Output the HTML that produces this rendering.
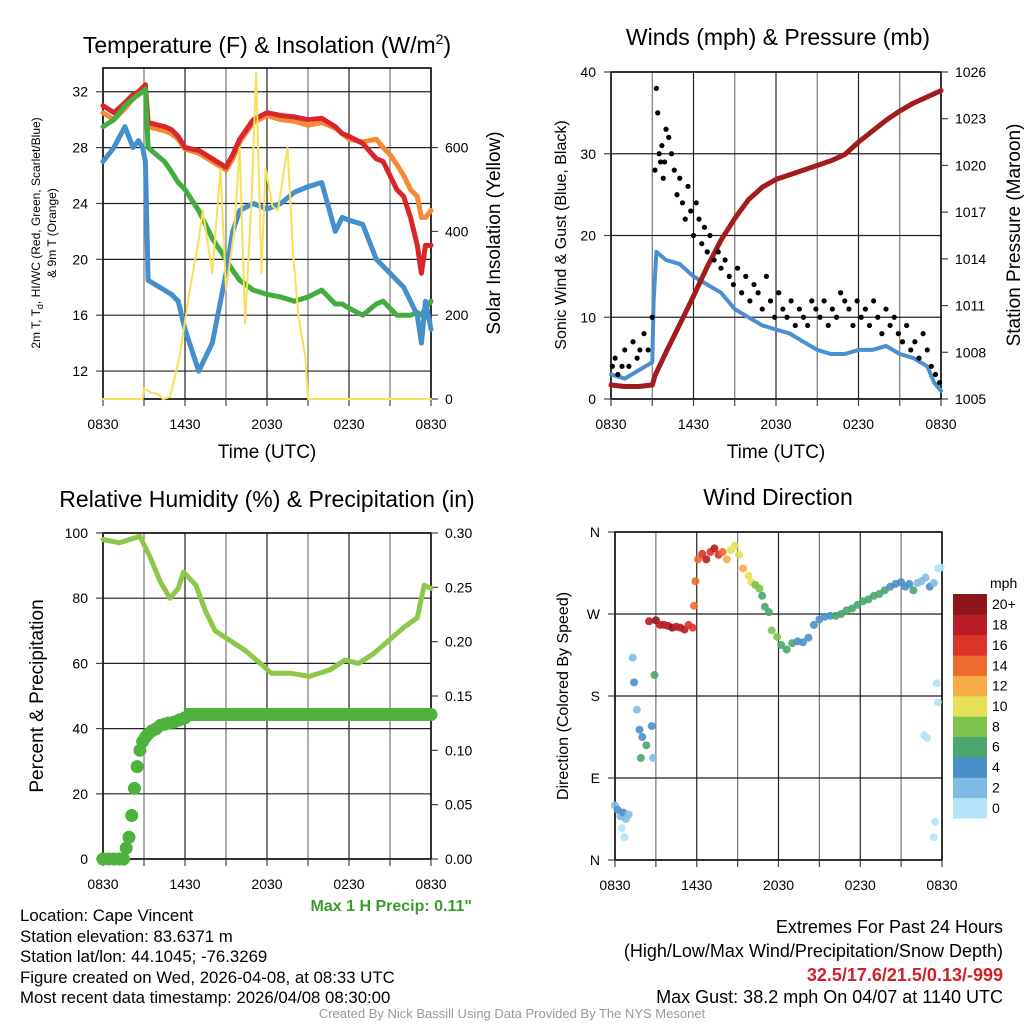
<!DOCTYPE html>
<html><head><meta charset="utf-8"><style>
body{margin:0;background:#fff;}
svg{display:block;font-family:"Liberation Sans",sans-serif;}
</style></head><body>
<svg id="s" width="1024" height="1024" viewBox="0 0 1024 1024">
<g id="g1"></g>
<g id="g2"></g>
<g id="g3"></g>
<g id="g4"></g>
<text x="267" y="53" font-size="23" text-anchor="middle">Temperature (F) &amp; Insolation (W/m<tspan dy="-9" font-size="14">2</tspan><tspan dy="9">)</tspan></text>
<text x="778" y="45" font-size="23" text-anchor="middle">Winds (mph) &amp; Pressure (mb)</text>
<text x="267" y="507" font-size="23" text-anchor="middle">Relative Humidity (%) &amp; Precipitation (in)</text>
<text x="778" y="505" font-size="23" text-anchor="middle">Wind Direction</text>
<text x="267" y="458" font-size="19" text-anchor="middle">Time (UTC)</text>
<text x="776" y="458" font-size="19" text-anchor="middle">Time (UTC)</text>
<text transform="translate(40,233) rotate(-90)" font-size="12" text-anchor="middle">2m T, T<tspan font-size="9" dy="3">d</tspan><tspan dy="-3">, HI/WC (Red, Green, Scarlet/Blue)</tspan></text>
<text transform="translate(56,233) rotate(-90)" font-size="12" text-anchor="middle">&amp; 9m T (Orange)</text>
<text transform="translate(500,233) rotate(-90)" font-size="19" text-anchor="middle">Solar Insolation (Yellow)</text>
<text transform="translate(566,235) rotate(-90)" font-size="16" text-anchor="middle">Sonic Wind &amp; Gust (Blue, Black)</text>
<text transform="translate(1020,235) rotate(-90)" font-size="19" text-anchor="middle">Station Pressure (Maroon)</text>
<text transform="translate(43,696) rotate(-90)" font-size="19" text-anchor="middle">Percent &amp; Precipitation</text>
<text transform="translate(568,696) rotate(-90)" font-size="16" text-anchor="middle">Direction (Colored By Speed)</text>
<text x="472" y="911" font-size="16" font-weight="bold" fill="#3a9a2a" text-anchor="end">Max 1 H Precip: 0.11"</text>
<g font-size="16.8">
<text x="20" y="921">Location: Cape Vincent</text>
<text x="20" y="942">Station elevation: 83.6371 m</text>
<text x="20" y="962">Station lat/lon: 44.1045; -76.3269</text>
<text x="20" y="983">Figure created on Wed, 2026-04-08, at 08:33 UTC</text>
<text x="20" y="1003">Most recent data timestamp: 2026/04/08 08:30:00</text>
</g>
<g font-size="18" text-anchor="end">
<text x="1003" y="933">Extremes For Past 24 Hours</text>
<text x="1003" y="957">(High/Low/Max Wind/Precipitation/Snow Depth)</text>
<text x="1003" y="981" font-weight="bold" fill="#d0202a">32.5/17.6/21.5/0.13/-999</text>
<text x="1003" y="1003">Max Gust: 38.2 mph On 04/07 at 1140 UTC</text>
</g>
<text x="512" y="1018" font-size="13" fill="#999" text-anchor="middle">Created By Nick Bassill Using Data Provided By The NYS Mesonet</text>
</svg>
<script>
// ---------- data ----------
const xTickLabels=["0830","1430","2030","0230","0830"];
const tT=[0,0.8,1.6,2.2,2.6,2.9,3.1,3.3,4.5,5,5.5,6,7,8,9,9.5,10,11,12,13,14,15,16,17,17.5,18,19,20,20.5,21,21.5,22,22.5,23,23.3,23.6,24];
const tempRed=[31,30.5,31.2,31.8,32,32.3,32.5,29.8,29.5,29.3,28.8,28,27.8,27.2,26.6,27.5,28.6,30,30.5,30.3,30.2,30,30.1,29.5,29,28.8,28.3,27.2,27,26,25,24.5,23,21,19,21,21];
const tempOrange=[30.5,30,30.8,31.5,31.8,32,32.3,29.5,29.2,29,28.6,27.9,27.6,27,26.4,27.2,28.4,29.8,30.3,30,29.9,29.6,29.8,29.4,29,28.6,28.4,28.6,28,27.5,26.8,26,25,24.5,23,23,23.5];
const tempBlue=[27,28,29.5,28,28.5,28,27,18.5,17.8,17.5,17,15,12,14,19,22,23.5,24,23.6,24,24.8,25.2,25.5,22,23,22.8,22.5,20,19.5,19,18.5,18,17,16,14,17,15];
const tempGreen=[29.5,30,31,31.5,31.8,32,32.2,28,27,26.3,25.5,25,23.5,21.5,20,19.2,18.5,17.8,17.5,17.3,17,17.3,17.8,16.8,16.8,16.5,16,16.8,17,16.5,16,16,16,16.2,16,16.5,17];
const tSolar=[0,2.9,3.0,3.5,4.0,4.4,4.9,5.6,6.3,7.0,7.3,8.0,8.6,9.0,9.6,10.0,10.4,10.9,11.2,11.6,11.9,12.4,12.8,13.5,13.9,14.3,14.8,15.0,24];
const solar=[0,0,25,15,12,0,5,100,250,380,450,300,550,260,400,600,180,500,780,300,550,460,450,600,350,200,100,0,0];
const tWind=[0,1,2,3,3.1,3.3,4,5,6,7,8,9,10,11,12,13,14,15,16,17,18,19,20,21,22,23,23.5,24];
const windSpd=[3,2.5,3.5,4.5,12,18,17,16.5,15,14,13,11,10,9,8.5,8,7,6,5.5,5.5,6,6,6.5,5.5,5,4,2,1];
const tPres=[0,1,2,3,3.2,4,5,6,7,8,9,10,11,12,13,14,15,16,17,18,19,20,21,22,23,24];
const pressure=[1005.9,1005.8,1005.8,1005.9,1006.5,1008,1009.8,1011.6,1013.5,1015.2,1016.6,1017.8,1018.6,1019.1,1019.4,1019.7,1020,1020.3,1020.7,1021.5,1022.2,1022.9,1023.5,1024,1024.4,1024.8];
const tGust=[0.1,0.3,0.5,0.8,1.0,1.3,1.6,1.9,2.1,2.4,2.7,3.0,3.2,3.3,3.4,3.5,3.6,3.7,3.8,3.9,4.0,4.2,4.4,4.6,4.8,5.0,5.2,5.4,5.6,5.8,6.0,6.2,6.4,6.6,6.8,7.0,7.2,7.5,7.8,8.0,8.3,8.6,8.9,9.2,9.5,9.8,10.1,10.4,10.7,11.0,11.3,11.6,11.9,12.2,12.5,12.8,13.1,13.4,13.7,14.0,14.3,14.6,14.9,15.2,15.5,15.8,16.1,16.4,16.7,17.0,17.3,17.6,17.9,18.2,18.5,18.8,19.1,19.4,19.7,20.0,20.3,20.6,20.9,21.2,21.5,21.8,22.1,22.4,22.7,23.0,23.3,23.6,23.9];
const gust=[4,5,3,4,6,4,7,5,6,8,6,10,28,38,35,30,29,31,27,29,33,32,30,28,25,27,24,22,26,23,20,24,22,19,21,18,20,17,18,16,17,15,14,16,13,15,12,14,13,11,15,12,10,13,11,10,12,9,11,10,9,12,11,10,12,9,11,10,13,12,11,9,12,10,11,9,12,10,8,11,9,10,8,7,9,6,7,5,8,6,4,3,2];
const tRH=[0,1.2,2.7,3.4,4.2,4.9,5.5,5.9,6.8,7.5,8.2,9.3,10.4,11.5,12.3,13.7,15.1,16.6,17.7,18.7,19.8,20.9,22,23,23.5,24];
const rh=[98,97,99,93,85,80,83,88,84,76,70,67,64,60,57,57,56,58,61,60,63,67,71,74,84,83];
const tPcp=[0,0.4,0.8,1.2,1.5,1.7,1.9,2.1,2.3,2.5,2.7,2.9,3.1,3.3,3.6,3.9,4.2,4.5,4.8,5.2,5.6,6,6.5,7,8,9,10,11,12,13,14,15,16,17,18,19,20,21,22,23,24];
const precip=[0,0,0,0,0,0.01,0.02,0.04,0.065,0.085,0.1,0.108,0.112,0.115,0.118,0.12,0.123,0.124,0.125,0.126,0.128,0.13,0.133,0.133,0.133,0.133,0.133,0.133,0.133,0.133,0.133,0.133,0.133,0.133,0.133,0.133,0.133,0.133,0.133,0.133,0.133];
const tDir=[0,0.2,0.4,0.6,0.8,1.0,0.5,0.7,1.3,1.4,1.6,1.8,2.0,2.3,2.7,2.8,2.9,1.9,2.5,3.0,3.3,3.6,3.9,4.2,4.5,4.8,5.1,5.4,5.7,5.8,5.9,6.1,6.4,6.7,7.0,7.3,7.6,7.9,8.2,8.5,8.8,9.1,9.4,9.8,10.0,10.3,10.6,10.8,11.0,11.3,11.5,11.9,12.2,12.6,13.0,13.4,13.8,14.2,14.6,15.0,15.4,15.8,16.2,16.6,17.0,17.4,17.8,18.2,18.6,19.0,19.4,19.8,20.2,20.6,21.0,21.3,21.6,21.9,22.2,22.5,22.8,23.1,23.4,23.7,23.9,22.7,22.9,23.6,23.7,23.5,23.4];
const dirDeg=[60,55,48,52,45,50,35,25,222,195,165,143,135,126,147,112,203,112,262,263,258,258,257,255,256,255,253,258,255,279,306,330,336,330,338,342,335,338,330,340,345,335,320,312,305,302,298,290,278,272,252,245,236,231,238,240,239,244,258,264,267,268,268,270,274,276,280,284,286,290,292,296,300,303,305,300,303,296,304,306,310,300,304,320,321,137,134,194,173,42,25];
const dirSpd=[2,4,3,4,2,3,1,1,2,4,2,4,4,6,4,2,6,6,19,20,18,19,18,20,19,18,19,17,17,14,14,14,16,18,17,18,16,15,12,11,10,11,12,10,10,8,8,6,6,6,8,8,6,7,6,5,5,4,4,4,5,5,6,6,6,6,6,7,7,6,7,6,5,4,5,4,4,6,3,2,3,4,2,1,1,1,1,1,1,1,1];
const cbLabels=["0","2","4","6","8","10","12","14","16","18","20+"];
const cbColors=["#b5e2f8","#7fbbe4","#4b8fc8","#48a66e","#7cc24b","#e6e056","#f7ad47","#ef6a2e","#dc3428","#b91c25","#8e1519"];

// ---------- helpers ----------
const NS="http://www.w3.org/2000/svg";
function mk(p,tag,at){const e=document.createElementNS(NS,tag);for(const k in at)e.setAttribute(k,at[k]);p.appendChild(e);return e;}
function lin(d0,d1,r0,r1){return v=>r0+(v-d0)/(d1-d0)*(r1-r0);}
function frame(g,x0,x1,y0,y1,hGrid,yS){
  for(let h=3;h<24;h+=3){const x=x0+h/24*(x1-x0);
    const l=mk(g,'line',{x1:x,x2:x,y1:y0,y2:y1,stroke:h%6?'#777':'#222','stroke-width':1.2});
    
    }
  hGrid.forEach(v=>{const y=yS(v);
    const l=mk(g,'line',{x1:x0,x2:x1,y1:y,y2:y,stroke:'#222','stroke-width':1.2});
    
    });
  const r=mk(g,'rect',{x:x0,y:y0,width:x1-x0,height:y1-y0,fill:'none',stroke:'#000','stroke-width':1.6});
  
  
  for(let h=0;h<=24;h+=3){const x=x0+h/24*(x1-x0);
    mk(g,'line',{x1:x,x2:x,y1:y1,y2:y1+7,stroke:'#444','stroke-width':1.2});}
  xTickLabels.forEach((s,i)=>{const x=x0+i/4*(x1-x0);
    const t=mk(g,'text',{x:x,y:y1+30,'font-size':14,'text-anchor':'middle'});t.textContent=s;
    
    });
}
function yTicks(g,x,vals,yS,left,fmt){vals.forEach(v=>{const y=yS(v);
  mk(g,'line',{x1:x,x2:left?x-7:x+7,y1:y,y2:y,stroke:'#444','stroke-width':1.2});
  const t=mk(g,'text',{x:left?x-15:x+14,y:y+5,'font-size':14,'text-anchor':left?'end':'start'});t.textContent=fmt?fmt(v):v;
  
  });}
function line(g,ts,vs,xS,yS,col,w,name){const d=ts.map((t,i)=>(i?'L':'M')+xS(t).toFixed(1)+','+yS(vs[i]).toFixed(1)).join('');
  const p=mk(g,'path',{d:d,fill:'none',stroke:col,'stroke-width':w,'stroke-linejoin':'round','stroke-linecap':'round'});
  
  }

// ---------- panel 1 ----------
{const g=document.getElementById('g1');const x0=103,x1=431,y0=68,y1=399;
 const xS=lin(0,24,x0,x1),yS=lin(10,33.7,y1,y0),sS=lin(0,790,y1,y0);
 frame(g,x0,x1,y0,y1,[12,16,20,24,28,32],yS);
 yTicks(g,x0,[12,16,20,24,28,32],yS,true);
 yTicks(g,x1,[0,200,400,600],sS,false);
 line(g,tT,tempOrange,xS,yS,'#f58a35',5,'series-9m-temp');
 line(g,tT,tempRed,xS,yS,'#d8262a',5,'series-2m-temp');
 line(g,tT,tempGreen,xS,yS,'#44ad3f',5,'series-dewpoint');
 line(g,tT,tempBlue,xS,yS,'#4590cc',5,'series-wind-chill');
 line(g,tSolar,solar,xS,sS,'#f8e05a',2,'series-solar');}
// ---------- panel 2 ----------
{const g=document.getElementById('g2');const x0=611,x1=941,y0=72,y1=399;
 const xS=lin(0,24,x0,x1),yS=lin(0,40,y1,y0),pS=lin(1005,1026,y1,y0);
 frame(g,x0,x1,y0,y1,[10,20,30],yS);
 yTicks(g,x0,[0,10,20,30,40],yS,true);
 yTicks(g,x1,[1005,1008,1011,1014,1017,1020,1023,1026],pS,false);
 line(g,tWind,windSpd,xS,yS,'#4a90d0',4,'series-wind-speed');
 line(g,tPres,pressure,xS,pS,'#a31c1c',5,'series-pressure');
 tGust.forEach((t,i)=>{const c=mk(g,'circle',{cx:xS(t),cy:yS(gust[i]),r:2.6,fill:'#000'});
  
  });}
// ---------- panel 3 ----------
{const g=document.getElementById('g3');const x0=103,x1=431,y0=533,y1=859;
 const xS=lin(0,24,x0,x1),yS=lin(0,100,y1,y0),pS=lin(0,0.3,y1,y0);
 frame(g,x0,x1,y0,y1,[20,40,60,80],yS);
 yTicks(g,x0,[0,20,40,60,80,100],yS,true);
 yTicks(g,x1,[0,0.05,0.1,0.15,0.2,0.25,0.3],pS,false,v=>v.toFixed(2));
 line(g,tRH,rh,xS,yS,'#8dc84b',5,'series-humidity');
 tPcp.forEach((t,i)=>{const c=mk(g,'circle',{cx:xS(t),cy:pS(precip[i]),r:6.5,fill:'#4db33d'});
  
  });
 mk(g,'rect',{x:xS(6),y:pS(0.133)-6.5,width:xS(24)-xS(6),height:13,fill:'#4db33d'});}
// ---------- panel 4 ----------
{const g=document.getElementById('g4');const x0=615,x1=942,y0=532,y1=860;
 const xS=lin(0,24,x0,x1),yS=lin(0,360,y1,y0);
 frame(g,x0,x1,y0,y1,[90,180,270],yS);
 yTicks(g,x0,[0,90,180,270,360],yS,true,v=>({0:'N',90:'E',180:'S',270:'W',360:'N'})[v]);
 tDir.forEach((t,i)=>{const b=Math.min(10,Math.floor(dirSpd[i]/2));
  const c=mk(g,'circle',{cx:xS(t),cy:yS(dirDeg[i]),r:4,fill:cbColors[b],opacity:0.9});
  
  });
 const cb=mk(g,'g',{});
 const h=224/11;
 cbColors.forEach((c,i)=>{const y=818-(i+1)*h;
  mk(cb,'rect',{x:953,y:y,width:34,height:h+0.5,fill:c});
  const t=mk(cb,'text',{x:992,y:y+h/2+5,'font-size':14});t.textContent=cbLabels[i];
  
  });
 const u=mk(cb,'text',{x:990,y:588,'font-size':14});u.textContent='mph';}
</script>
</body></html>
